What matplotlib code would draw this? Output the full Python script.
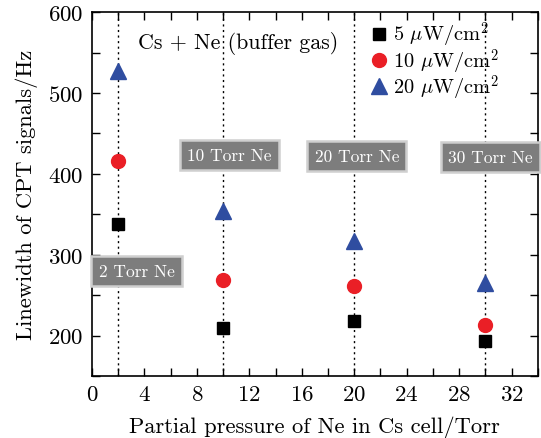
import matplotlib
matplotlib.use("Agg")
import matplotlib.pyplot as plt
from matplotlib.ticker import MultipleLocator

# data
pressure = [2, 10, 20, 30]
width_5uw = [338, 210, 218, 194]
width_10uw = [416, 269, 262, 213]
width_20uw = [527, 354, 317, 265]

series_labels = [r"5 $\mu$W/cm$^2$", r"10 $\mu$W/cm$^2$", r"20 $\mu$W/cm$^2$"]
box_labels = ["2 Torr Ne", "10 Torr Ne", "20 Torr Ne", "30 Torr Ne"]
box_x = [3.4, 10.5, 20.2, 30.4]
box_y = [280, 423, 422, 421]

plt.rcParams.update({
    "font.family": "cmr10",
    "mathtext.fontset": "cm",
    "axes.formatter.use_mathtext": True,
    "font.size": 15,
})

fig = plt.figure(figsize=(5.41, 4.39), dpi=100)
ax = fig.add_axes([0.170, 0.141, 0.824, 0.829])

# dotted guide lines at each cell pressure
for p in pressure:
    ax.axvline(p, color="black", ls=(0, (1.5, 2.5)), lw=1.0, zorder=1)

ax.plot(pressure, width_5uw, ls="none", marker="s", ms=9, color="black",
        label=series_labels[0], zorder=3)
ax.plot(pressure, width_10uw, ls="none", marker="o", ms=10, color="#ea1f26",
        label=series_labels[1], zorder=3)
ax.plot(pressure, width_20uw, ls="none", marker="^", ms=12, color="#2f4da0",
        label=series_labels[2], zorder=3)

for lbl, bx, by in zip(box_labels, box_x, box_y):
    ax.text(bx, by, lbl, color="white", fontsize=12.5, ha="center", va="center",
            zorder=4,
            bbox=dict(boxstyle="square,pad=0.42", facecolor="#7d7d7d",
                      edgecolor="#cfcfcf", linewidth=1.8))

ax.text(3.5, 563, "Cs + Ne (buffer gas)", fontsize=15.8, ha="left", va="center")

ax.legend(loc="upper left", bbox_to_anchor=(0.60, 1.0), frameon=False,
          fontsize=14.7, handletextpad=0.15, labelspacing=-0.14, handlelength=1.1,
          borderaxespad=0.0)

ax.set_xlim(0, 34)
ax.set_ylim(150, 600)
ax.xaxis.set_major_locator(MultipleLocator(4))
ax.xaxis.set_minor_locator(MultipleLocator(2))
ax.yaxis.set_major_locator(MultipleLocator(100))
ax.yaxis.set_minor_locator(MultipleLocator(50))
ax.tick_params(which="both", direction="in", top=True, right=True, labelsize=16.5)
ax.tick_params(which="major", length=6, width=1, pad=6)
ax.tick_params(which="minor", length=6, width=1)
for s in ax.spines.values():
    s.set_linewidth(1.2)

ax.set_xlabel("Partial pressure of Ne in Cs cell/Torr", fontsize=16.2, labelpad=8)
ax.set_ylabel("Linewidth of CPT signals/Hz", fontsize=16.2, labelpad=7)

fig.savefig("out.png", dpi=100)
